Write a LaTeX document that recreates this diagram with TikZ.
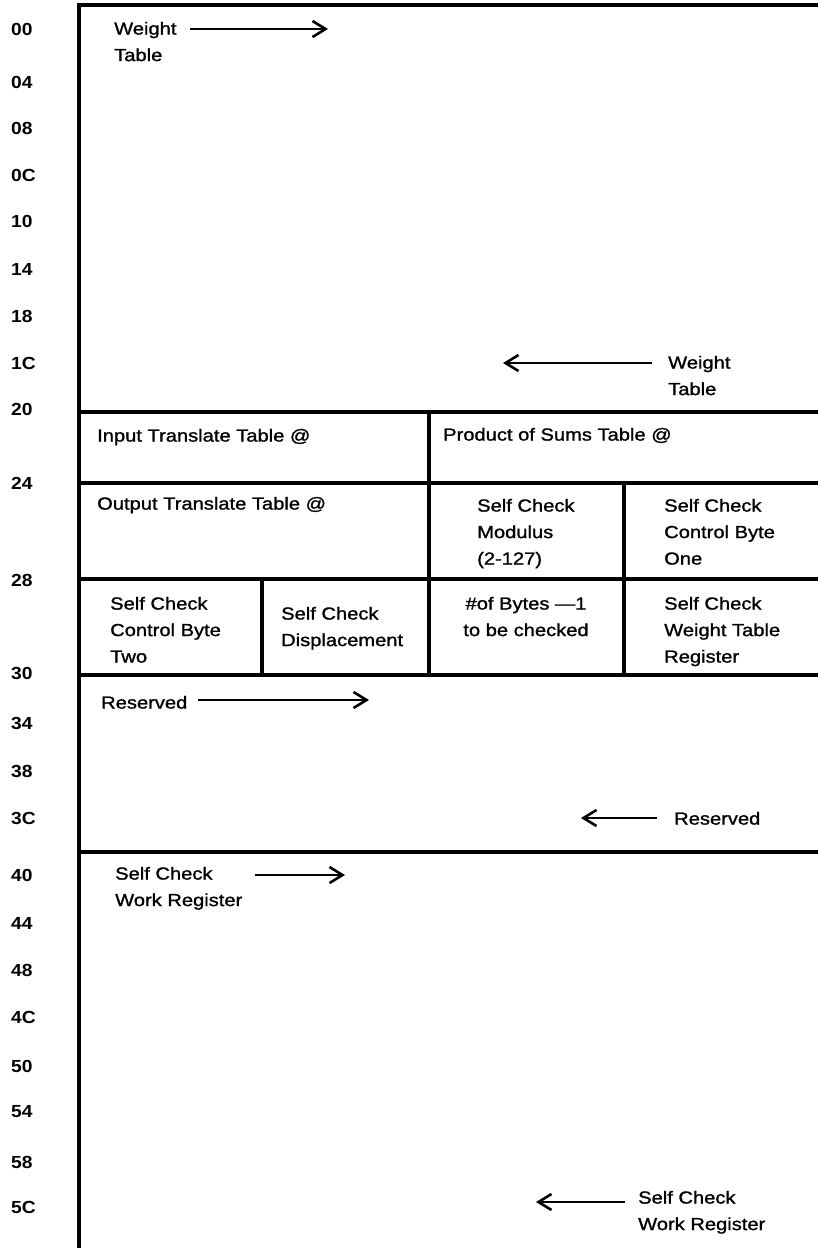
\documentclass[tikz,border=0pt]{standalone}
\usepackage{fontspec}
\setmainfont{Liberation Sans}[FakeStretch=1.15,FakeBold=1.2]
\newfontfamily\hexfont{Liberation Sans}[FakeStretch=1.1]
\usetikzlibrary{arrows.meta}
\begin{document}
\begin{tikzpicture}[x=1pt,y=-1pt,
  frame/.style={line width=3.2pt},
  txt/.style={inner sep=0pt, anchor=north west, align=left, font=\fontsize{17.5}{26.5}\selectfont},
  hex/.style={inner sep=0pt, anchor=west, font=\hexfont\bfseries\fontsize{17.5}{20}\selectfont},
  arr/.style={line width=2.6pt, -{Straight Barb[length=13pt,width=16pt,line width=2.6pt]}}]
\useasboundingbox (0,0) rectangle (818,1248);
% frame and table rules
\draw[frame] (818,5) -- (79,5) -- (79,1248);
\draw[frame] (79,412) -- (818,412);
\draw[frame] (79,483) -- (818,483);
\draw[frame] (79,579) -- (818,579);
\draw[frame] (79,675) -- (818,675);
\draw[frame] (79,852) -- (818,852);
\draw[frame] (429,412) -- (429,675);
\draw[frame] (624,483) -- (624,675);
\draw[frame] (262,579) -- (262,675);
% offsets
\node[hex] (h00) at (11,29) {00};
\node[hex] (h04) at (11,82) {04};
\node[hex] (h08) at (11,128) {08};
\node[hex] (h0C) at (11,175) {0C};
\node[hex] (h10) at (11,221) {10};
\node[hex] (h14) at (11,269) {14};
\node[hex] (h18) at (11,316) {18};
\node[hex] (h1C) at (11,363) {1C};
\node[hex] (h20) at (11,409) {20};
\node[hex] (h24) at (11,483) {24};
\node[hex] (h28) at (11,580) {28};
\node[hex] (h30) at (11,673) {30};
\node[hex] (h34) at (11,723) {34};
\node[hex] (h38) at (11,771) {38};
\node[hex] (h3C) at (11,818) {3C};
\node[hex] (h40) at (11,875) {40};
\node[hex] (h44) at (11,923) {44};
\node[hex] (h48) at (11,970) {48};
\node[hex] (h4C) at (11,1017) {4C};
\node[hex] (h50) at (11,1066) {50};
\node[hex] (h54) at (11,1112) {54};
\node[hex] (h58) at (11,1162) {58};
\node[hex] (h5C) at (11,1207) {5C};
% weight table
\node[txt] (wt1) at (114,21.7) {Weight\\Table};
\coordinate (wt1s) at (190,29);
\coordinate (wt1e) at (328,29);
\draw[arr] (wt1s) -- (wt1e);
\node[txt] (wt2) at (668,355.7) {Weight\\Table};
\coordinate (wt2s) at (652,363);
\coordinate (wt2e) at (503,363);
\draw[arr] (wt2s) -- (wt2e);
% fields
\node[txt] (itt) at (97,428.7) {Input Translate Table @};
\node[txt] (pst) at (443,427.7) {Product of Sums Table @};
\node[txt] (ott) at (97,496.7) {Output Translate Table @};
\node[txt] (mod) at (477,498.7) {Self Check\\Modulus\\(2-127)};
\node[txt] (cb1) at (664,498.7) {Self Check\\Control Byte\\One};
\node[txt] (cb2) at (110,596.7) {Self Check\\Control Byte\\Two};
\node[txt] (dsp) at (281,606.7) {Self Check\\Displacement};
\node[txt, anchor=north, align=center] (nob) at (526,596.7) {\#of Bytes —1\\to be checked};
\node[txt] (wtr) at (664,596.7) {Self Check\\Weight Table\\Register};
% reserved
\node[txt] (rs1) at (101,695.7) {Reserved};
\coordinate (rs1s) at (198,700);
\coordinate (rs1e) at (369,700);
\draw[arr] (rs1s) -- (rs1e);
\node[txt] (rs2) at (674,811.7) {Reserved};
\coordinate (rs2s) at (657,818);
\coordinate (rs2e) at (581,818);
\draw[arr] (rs2s) -- (rs2e);
% work register
\node[txt] (wr1) at (115,866.7) {Self Check\\Work Register};
\coordinate (wr1s) at (255,875);
\coordinate (wr1e) at (345,875);
\draw[arr] (wr1s) -- (wr1e);
\node[txt] (wr2) at (638,1190.7) {Self Check\\Work Register};
\coordinate (wr2s) at (625,1202);
\coordinate (wr2e) at (536,1202);
\draw[arr] (wr2s) -- (wr2e);
\end{tikzpicture}
\end{document}
